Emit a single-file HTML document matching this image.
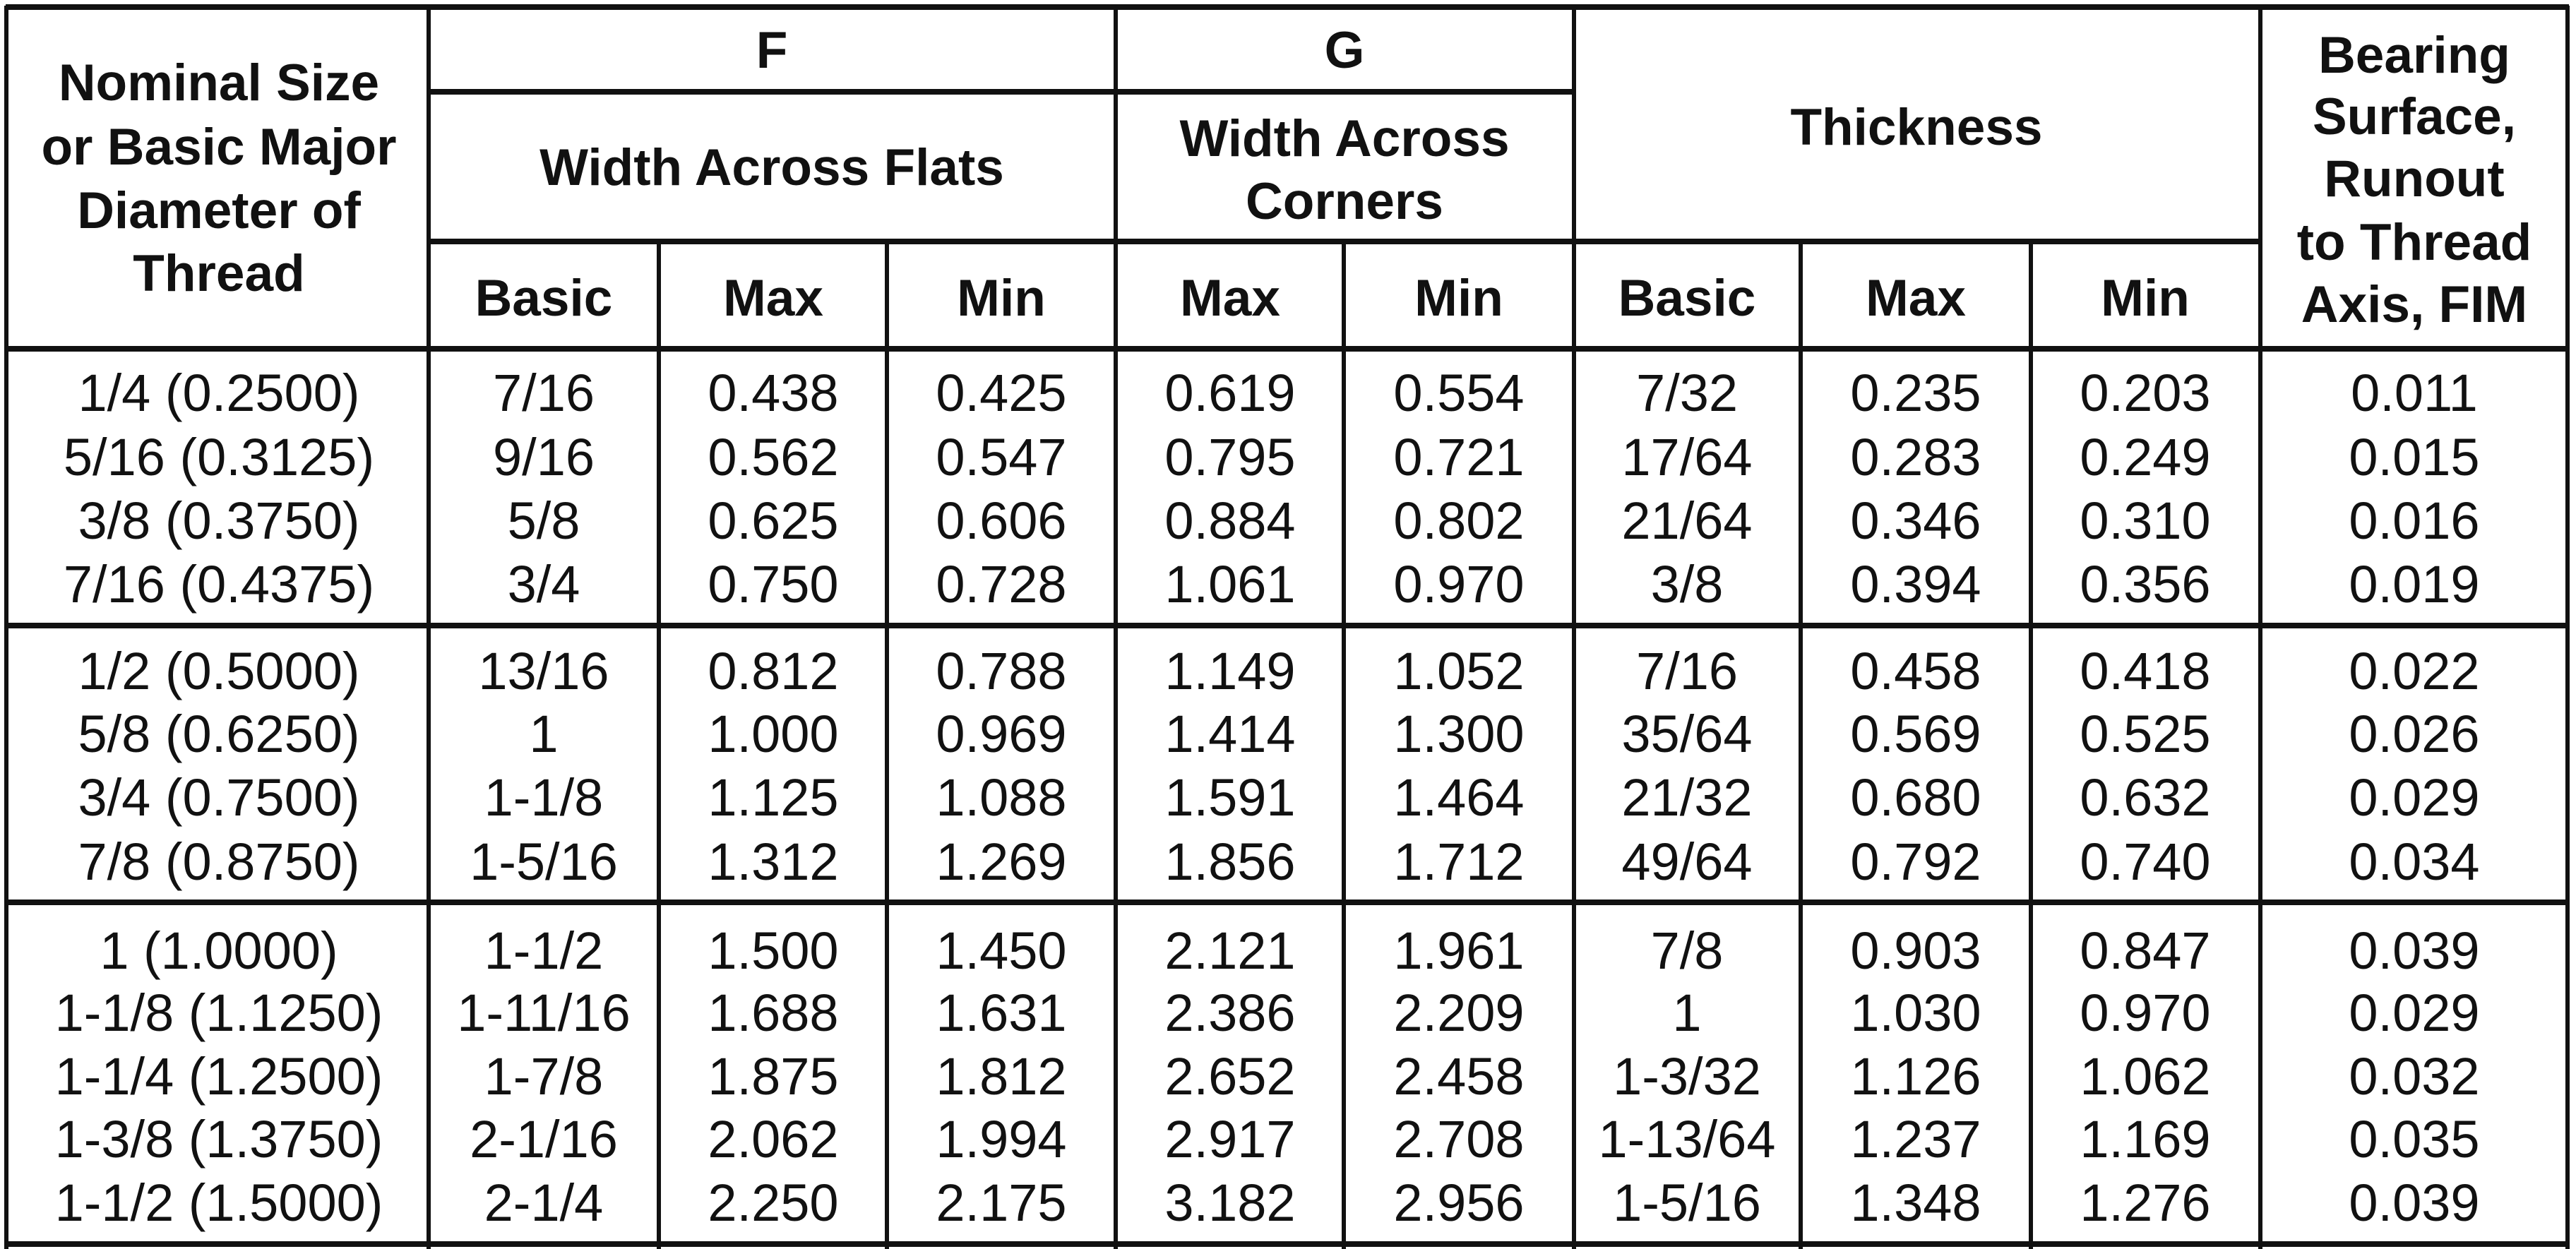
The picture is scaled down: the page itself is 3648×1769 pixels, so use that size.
<!DOCTYPE html>
<html><head><meta charset="utf-8"><style>
html,body{margin:0;padding:0;background:#fff;}
svg{display:block;}
text{font-family:"Liberation Sans",Arial,sans-serif;fill:#111;}
.h{font-weight:bold;font-size:73px;}
.d{font-size:74px;}
</style></head><body>
<svg width="3648" height="1769" viewBox="0 0 3648 1769" xmlns="http://www.w3.org/2000/svg">
<rect width="3648" height="1769" fill="#fff"/>
<g stroke="#111" fill="none">
<g stroke-width="8">
<line x1="8" y1="10" x2="3638" y2="10"/>
<line x1="607" y1="130" x2="2228" y2="130"/>
<line x1="607" y1="342" x2="3200" y2="342"/>
<line x1="8" y1="494" x2="3638" y2="494"/>
<line x1="8" y1="886" x2="3638" y2="886"/>
<line x1="8" y1="1278" x2="3638" y2="1278"/>
<line x1="8" y1="1762" x2="3638" y2="1762"/>
</g>
<g stroke-width="6">
<line x1="9" y1="8" x2="9" y2="1769"/>
<line x1="607" y1="8" x2="607" y2="1769"/>
<line x1="933" y1="342" x2="933" y2="1769"/>
<line x1="1256" y1="342" x2="1256" y2="1769"/>
<line x1="1580" y1="8" x2="1580" y2="1769"/>
<line x1="1903" y1="342" x2="1903" y2="1769"/>
<line x1="2229" y1="8" x2="2229" y2="1769"/>
<line x1="2550" y1="342" x2="2550" y2="1769"/>
<line x1="2876" y1="342" x2="2876" y2="1769"/>
<line x1="3201" y1="8" x2="3201" y2="1769"/>
<line x1="3636" y1="8" x2="3636" y2="1769"/>
</g>
</g>
<g class="h" text-anchor="middle">
<text x="310" y="142">Nominal Size</text>
<text x="310" y="233">or Basic Major</text>
<text x="310" y="323">Diameter of</text>
<text x="310" y="412">Thread</text>
<text x="1093" y="96">F</text>
<text x="1093" y="262">Width Across Flats</text>
<text x="1904" y="96">G</text>
<text x="1904" y="221">Width Across</text>
<text x="1904" y="310">Corners</text>
<text x="2714" y="205">Thickness</text>
<text x="3419" y="103">Bearing</text>
<text x="3419" y="190">Surface,</text>
<text x="3419" y="278">Runout</text>
<text x="3419" y="368">to Thread</text>
<text x="3419" y="456">Axis, FIM</text>
<text x="770" y="447">Basic</text>
<text x="1095" y="447">Max</text>
<text x="1418" y="447">Min</text>
<text x="1742" y="447">Max</text>
<text x="2066" y="447">Min</text>
<text x="2389" y="447">Basic</text>
<text x="2713" y="447">Max</text>
<text x="3038" y="447">Min</text>
</g>
<g class="d" text-anchor="middle">
<g transform="translate(0,582)">
<text x="310">1/4 (0.2500)</text><text x="770">7/16</text><text x="1095">0.438</text><text x="1418">0.425</text><text x="1742">0.619</text><text x="2066">0.554</text><text x="2389">7/32</text><text x="2713">0.235</text><text x="3038">0.203</text><text x="3419">0.011</text>
</g>
<g transform="translate(0,673)">
<text x="310">5/16 (0.3125)</text><text x="770">9/16</text><text x="1095">0.562</text><text x="1418">0.547</text><text x="1742">0.795</text><text x="2066">0.721</text><text x="2389">17/64</text><text x="2713">0.283</text><text x="3038">0.249</text><text x="3419">0.015</text>
</g>
<g transform="translate(0,763)">
<text x="310">3/8 (0.3750)</text><text x="770">5/8</text><text x="1095">0.625</text><text x="1418">0.606</text><text x="1742">0.884</text><text x="2066">0.802</text><text x="2389">21/64</text><text x="2713">0.346</text><text x="3038">0.310</text><text x="3419">0.016</text>
</g>
<g transform="translate(0,853)">
<text x="310">7/16 (0.4375)</text><text x="770">3/4</text><text x="1095">0.750</text><text x="1418">0.728</text><text x="1742">1.061</text><text x="2066">0.970</text><text x="2389">3/8</text><text x="2713">0.394</text><text x="3038">0.356</text><text x="3419">0.019</text>
</g>
<g transform="translate(0,976)">
<text x="310">1/2 (0.5000)</text><text x="770">13/16</text><text x="1095">0.812</text><text x="1418">0.788</text><text x="1742">1.149</text><text x="2066">1.052</text><text x="2389">7/16</text><text x="2713">0.458</text><text x="3038">0.418</text><text x="3419">0.022</text>
</g>
<g transform="translate(0,1065)">
<text x="310">5/8 (0.6250)</text><text x="770">1</text><text x="1095">1.000</text><text x="1418">0.969</text><text x="1742">1.414</text><text x="2066">1.300</text><text x="2389">35/64</text><text x="2713">0.569</text><text x="3038">0.525</text><text x="3419">0.026</text>
</g>
<g transform="translate(0,1155)">
<text x="310">3/4 (0.7500)</text><text x="770">1-1/8</text><text x="1095">1.125</text><text x="1418">1.088</text><text x="1742">1.591</text><text x="2066">1.464</text><text x="2389">21/32</text><text x="2713">0.680</text><text x="3038">0.632</text><text x="3419">0.029</text>
</g>
<g transform="translate(0,1246)">
<text x="310">7/8 (0.8750)</text><text x="770">1-5/16</text><text x="1095">1.312</text><text x="1418">1.269</text><text x="1742">1.856</text><text x="2066">1.712</text><text x="2389">49/64</text><text x="2713">0.792</text><text x="3038">0.740</text><text x="3419">0.034</text>
</g>
<g transform="translate(0,1372)">
<text x="310">1 (1.0000)</text><text x="770">1-1/2</text><text x="1095">1.500</text><text x="1418">1.450</text><text x="1742">2.121</text><text x="2066">1.961</text><text x="2389">7/8</text><text x="2713">0.903</text><text x="3038">0.847</text><text x="3419">0.039</text>
</g>
<g transform="translate(0,1460)">
<text x="310">1-1/8 (1.1250)</text><text x="770">1-11/16</text><text x="1095">1.688</text><text x="1418">1.631</text><text x="1742">2.386</text><text x="2066">2.209</text><text x="2389">1</text><text x="2713">1.030</text><text x="3038">0.970</text><text x="3419">0.029</text>
</g>
<g transform="translate(0,1550)">
<text x="310">1-1/4 (1.2500)</text><text x="770">1-7/8</text><text x="1095">1.875</text><text x="1418">1.812</text><text x="1742">2.652</text><text x="2066">2.458</text><text x="2389">1-3/32</text><text x="2713">1.126</text><text x="3038">1.062</text><text x="3419">0.032</text>
</g>
<g transform="translate(0,1639)">
<text x="310">1-3/8 (1.3750)</text><text x="770">2-1/16</text><text x="1095">2.062</text><text x="1418">1.994</text><text x="1742">2.917</text><text x="2066">2.708</text><text x="2389">1-13/64</text><text x="2713">1.237</text><text x="3038">1.169</text><text x="3419">0.035</text>
</g>
<g transform="translate(0,1729)">
<text x="310">1-1/2 (1.5000)</text><text x="770">2-1/4</text><text x="1095">2.250</text><text x="1418">2.175</text><text x="1742">3.182</text><text x="2066">2.956</text><text x="2389">1-5/16</text><text x="2713">1.348</text><text x="3038">1.276</text><text x="3419">0.039</text>
</g>
</g>
</svg>
</body></html>
